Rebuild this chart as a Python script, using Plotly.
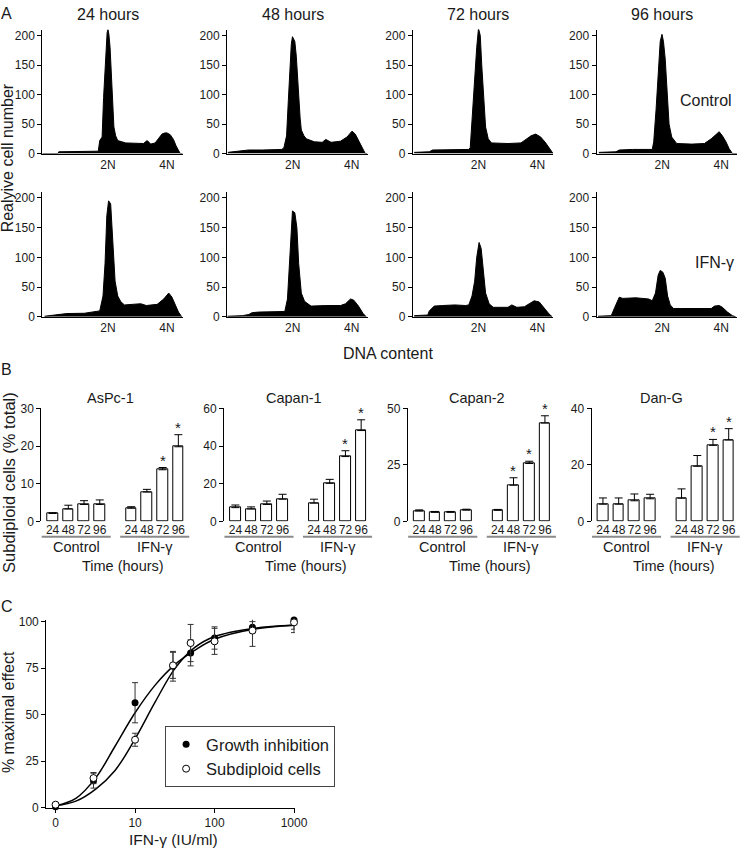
import plotly.graph_objects as go

# ---------------- DATA ----------------
# Panel A: DNA histograms (channel where 2N=200, 4N=400 ; relative cell number)
HOURS_TITLES = ["24 hours", "48 hours", "72 hours", "96 hours"]
DNA_TICKS = [200, 400]
DNA_TICK_TEXT = ["2N", "4N"]

c24_x = [-23, 30, 33, 100, 167, 172, 180, 185, 189, 193, 197, 200, 203, 207, 211, 215, 220, 226, 233, 260, 290, 320, 333, 345, 360, 372, 383, 393, 400, 411, 422, 431, 439, 445, 453]
c24_y = [0, 0, 3, 3, 4, 22, 28, 95, 140, 178, 205, 210, 202, 180, 130, 80, 45, 30, 22, 18, 17, 17, 22, 16, 18, 26, 33, 35, 35, 32, 24, 13, 4, 0, 0]
c48_x = [-20, 17, 50, 97, 130, 163, 170, 179, 185, 190, 195, 199, 203, 207, 212, 216, 220, 225, 229, 238, 246, 273, 300, 312, 330, 362, 384, 395, 401, 412, 423, 434, 446, 453]
c48_y = [2, 4, 6, 6, 7, 7, 10, 30, 90, 145, 185, 198, 195, 190, 165, 130, 100, 60, 40, 30, 25, 20, 19, 24, 19, 21, 28, 35, 38, 33, 22, 10, 0, 0]
c72_x = [-18, 33, 44, 100, 167, 172, 180, 187, 194, 200, 206, 211, 217, 224, 233, 244, 300, 344, 361, 378, 394, 411, 428, 444, 453]
c72_y = [2, 3, 6, 6, 7, 10, 75, 125, 180, 212, 200, 150, 90, 45, 25, 18, 17, 18, 24, 30, 33, 28, 18, 6, 0]
c96_x = [-15, 43, 54, 99, 166, 171, 179, 186, 193, 199, 204, 210, 216, 223, 232, 249, 300, 343, 366, 382, 393, 404, 416, 427, 438, 453]
c96_y = [2, 3, 6, 7, 7, 20, 75, 145, 190, 202, 190, 160, 105, 50, 28, 17, 16, 17, 25, 33, 37, 30, 20, 8, 0, 0]

i24_x = [-15, 33, 60, 120, 172, 183, 190, 196, 202, 209, 217, 224, 233, 244, 256, 311, 330, 367, 389, 406, 417, 428, 439, 450]
i24_y = [1, 4, 5.5, 6, 10, 35, 90, 170, 195, 190, 130, 60, 35, 25, 20, 22, 19, 21, 30, 40, 33, 20, 8, 0]
i48_x = [-21, 30, 51, 62, 84, 130, 173, 182, 190, 195, 199, 207, 214, 220, 229, 240, 262, 312, 362, 379, 396, 407, 423, 438, 449]
i48_y = [1, 2, 4, 7, 8, 8, 9, 30, 110, 160, 178, 175, 150, 90, 40, 26, 18, 19, 19, 22, 30, 28, 18, 6, 0]
i72_x = [-18, 28, 33, 50, 78, 120, 156, 167, 178, 187, 194, 202, 209, 217, 224, 236, 250, 300, 313, 330, 356, 372, 389, 406, 422, 439, 450]
i72_y = [2, 3, 10, 18, 19, 20, 19, 20, 35, 60, 100, 125, 115, 70, 40, 22, 16, 16, 20, 16, 17, 22, 27, 25, 15, 5, 0]
i96_x = [-18, 27, 38, 54, 66, 110, 154, 166, 177, 186, 193, 202, 210, 218, 227, 238, 266, 366, 377, 393, 404, 421, 438, 449]
i96_y = [1, 2, 15, 33, 31, 32, 30, 27, 40, 70, 78, 75, 65, 35, 20, 14, 14, 14, 18, 19, 16, 8, 2, 0]

HISTS = [(c24_x, c24_y), (c48_x, c48_y), (c72_x, c72_y), (c96_x, c96_y),
         (i24_x, i24_y), (i48_x, i48_y), (i72_x, i72_y), (i96_x, i96_y)]

# Panel B: subdiploid cells (% total)
TIME_POS = [0, 1, 2, 3, 5, 6, 7, 8]
TIME_LABELS = ["24", "48", "72", "96", "24", "48", "72", "96"]
CELL_LINES = ["AsPc-1", "Capan-1", "Capan-2", "Dan-G"]
aspc1_val = [2.1, 3.3, 4.5, 4.5, 3.5, 7.8, 13.7, 19.8]
aspc1_err = [0.2, 1.0, 1.0, 1.2, 0.4, 0.7, 0.6, 3.2]
capan1_val = [7.3, 6.6, 9.0, 11.8, 9.7, 20.2, 34.4, 48.2]
capan1_err = [1.4, 1.1, 1.8, 2.6, 2.1, 2.1, 3.1, 5.7]
capan2_val = [4.6, 4.0, 4.0, 5.0, 4.9, 16.0, 25.6, 43.5]
capan2_err = [0.5, 0.4, 0.4, 0.4, 0.4, 3.3, 1.0, 3.2]
dang_val = [6.1, 6.1, 7.3, 8.0, 8.2, 19.5, 26.9, 28.8]
dang_err = [2.2, 2.2, 2.4, 1.6, 3.3, 3.8, 2.1, 4.0]
BAR_VALS = [aspc1_val, capan1_val, capan2_val, dang_val]
BAR_ERRS = [aspc1_err, capan1_err, capan2_err, dang_err]
BAR_STARS = [[6, 7], [6, 7], [5, 6, 7], [6, 7]]
BAR_YMAX = [30, 60, 50, 40]
BAR_TICKS = [[0, 10, 20, 30], [0, 20, 40, 60], [0, 25, 50], [0, 20, 40]]

# Panel C: dose response (0 IU/ml shown at the position of 1)
DOSE = [1, 3, 10, 30, 50, 100, 300, 1000]
DOSE_TICKS = [1, 10, 100, 1000]
DOSE_TICK_TEXT = ["0", "10", "100", "1000"]
growth_val = [0.5, 14.5, 56.4, 76, 83.2, 91.2, 97, 100.9]
growth_err = [0.5, 4, 10.8, 8, 7, 6, 3, 5]
subdip_val = [1.6, 15.9, 36.5, 76.5, 88.5, 89.4, 95.2, 99.6]
subdip_err = [0.5, 3, 3.5, 7, 10, 7, 8.5, 5.5]
CURVE_DOSE = [1, 1.8, 3.2, 5.6, 10, 18, 32, 56, 100, 320, 1000]
growth_curve = [1, 5, 16, 33, 51, 66, 77, 84.5, 90.5, 96, 98]
subdip_curve = [1, 3.5, 10, 20, 37, 57, 75, 86, 92, 96.5, 98]

# ---------------- LAYOUT HELPERS ----------------
W, H = 754, 853
FONT = "Liberation Sans, Arial, Helvetica, sans-serif"
INK = "#1a1a1a"


def fx(p):
    return p / W


def fy(p):
    return 1 - p / H


def xdom(a, b):
    return [fx(a), fx(b)]


def ydom(top, bottom):
    return [fy(bottom), fy(top)]


def aname(k, ax):
    return ax if k == 1 else f"{ax}{k}"


def lname(k, ax):
    return f"{ax}axis" if k == 1 else f"{ax}axis{k}"


fig = go.Figure()
layout_axes = {}
annotations = []
shapes = []

axis_common = dict(showline=True, linecolor="black", linewidth=1, showgrid=False,
                   zeroline=False, tickfont=dict(size=12, family=FONT, color=INK))

# ---------------- PANEL A ----------------
HIST_LEFTS = [43, 231, 420, 607]
HIST_W = 143
ROWS = [(23, 149), (188, 315)]
for i, (hx, hy) in enumerate(HISTS):
    k = i + 1
    row = i // 4
    col = i % 4
    left = HIST_LEFTS[col]
    fig.add_trace(go.Scatter(x=hx, y=hy, mode="lines", fill="tozeroy",
                             line=dict(color="black", width=1), fillcolor="black",
                             xaxis=aname(k, "x"), yaxis=aname(k, "y"), showlegend=False,
                             hoverinfo="skip"))
    layout_axes[lname(k, "x")] = dict(axis_common, domain=xdom(left, left + HIST_W),
                                      anchor=aname(k, "y"), range=[-23, 453.7],
                                      tickvals=DNA_TICKS, ticktext=DNA_TICK_TEXT, ticks="")
    layout_axes[lname(k, "y")] = dict(axis_common, domain=ydom(*ROWS[row]),
                                      anchor=aname(k, "x"), range=[0, 210],
                                      tickvals=[0, 50, 100, 150, 200], ticks="outside",
                                      ticklen=4, tickcolor="black")
    if row == 0:
        annotations.append(dict(text=HOURS_TITLES[col], x=200, xref=aname(k, "x"),
                                y=fy(8), yref="paper", showarrow=False,
                                font=dict(size=16), xanchor="center", yanchor="middle"))

annotations += [
    dict(text="A", x=fx(7), y=fy(7)),
    dict(text="Control", x=fx(718), y=fy(95)),
    dict(text="IFN-γ", x=fx(727), y=fy(260)),
    dict(text="Realyive cell number", x=fx(8), y=fy(153), textangle=-90),
    dict(text="DNA content", x=fx(395), y=fy(352)),
]

# ---------------- PANEL B ----------------
BAR_LEFTS = [42, 228, 415, 602]
BAR_W = 151
BAR_ROW = (408, 523)
for j in range(4):
    k = 9 + j
    left = BAR_LEFTS[j]
    xa, ya = aname(k, "x"), aname(k, "y")
    fig.add_trace(go.Bar(x=TIME_POS, y=BAR_VALS[j], width=0.68,
                         marker=dict(color="white", line=dict(color="black", width=1)),
                         error_y=dict(type="data", array=BAR_ERRS[j],
                                      arrayminus=[0] * len(BAR_ERRS[j]), symmetric=False,
                                      color="black", thickness=1, width=4),
                         xaxis=xa, yaxis=ya, showlegend=False, hoverinfo="skip"))
    layout_axes[lname(k, "x")] = dict(axis_common, showline=False, domain=xdom(left, left + BAR_W),
                                      anchor=ya, range=[-0.72, 8.72], tickvals=TIME_POS,
                                      ticktext=TIME_LABELS, ticks="")
    layout_axes[lname(k, "y")] = dict(axis_common, domain=ydom(*BAR_ROW), anchor=xa,
                                      range=[0, BAR_YMAX[j]], tickvals=BAR_TICKS[j],
                                      ticks="outside", ticklen=4, tickcolor="black")
    for s in BAR_STARS[j]:
        annotations.append(dict(text="*", x=TIME_POS[s], xref=xa,
                                y=BAR_VALS[j][s] + BAR_ERRS[j][s], yref=ya,
                                showarrow=False, yanchor="bottom", yshift=-3,
                                font=dict(size=15)))
    annotations.append(dict(text=CELL_LINES[j], x=3.7, xref=xa, y=fy(398), yref="paper",
                            showarrow=False, font=dict(size=14.5)))
    annotations.append(dict(text="Control", x=1.5, xref=xa, y=fy(549), yref="paper",
                            showarrow=False, font=dict(size=14.5)))
    annotations.append(dict(text="IFN-γ", x=6.5, xref=xa, y=fy(549), yref="paper",
                            showarrow=False, font=dict(size=14.5)))
    annotations.append(dict(text="Time (hours)", x=4.5, xref=xa, y=fy(568), yref="paper",
                            showarrow=False, font=dict(size=14.5)))
    for (a, b) in [(-0.7, 3.7), (4.3, 8.7)]:
        shapes.append(dict(type="line", xref=xa, yref="paper", x0=a, x1=b,
                           y0=fy(538.5), y1=fy(538.5), line=dict(color="#8a8a8a", width=2)))

annotations += [
    dict(text="B", x=fx(7), y=fy(369)),
    dict(text="Subdiploid cells (% total)", x=fx(9), y=fy(483), textangle=-90,
         font=dict(size=16.5)),
]

# ---------------- PANEL C ----------------
k = 13
xa, ya = aname(k, "x"), aname(k, "y")
fig.add_trace(go.Scatter(x=CURVE_DOSE, y=growth_curve, mode="lines", line_shape="spline",
                         line=dict(color="black", width=1.5), xaxis=xa, yaxis=ya,
                         showlegend=False, hoverinfo="skip"))
fig.add_trace(go.Scatter(x=CURVE_DOSE, y=subdip_curve, mode="lines", line_shape="spline",
                         line=dict(color="black", width=1.5), xaxis=xa, yaxis=ya,
                         showlegend=False, hoverinfo="skip"))
fig.add_trace(go.Scatter(x=DOSE, y=growth_val, mode="markers", name="Growth inhibition",
                         marker=dict(symbol="circle", size=7, color="black"),
                         error_y=dict(type="data", array=growth_err, color="#333",
                                      thickness=1, width=3),
                         xaxis=xa, yaxis=ya, cliponaxis=False))
fig.add_trace(go.Scatter(x=DOSE, y=subdip_val, mode="markers", name="Subdiploid cells",
                         marker=dict(symbol="circle", size=7, color="white",
                                     line=dict(color="black", width=1)),
                         error_y=dict(type="data", array=subdip_err, color="#333",
                                      thickness=1, width=3),
                         xaxis=xa, yaxis=ya, cliponaxis=False))
layout_axes[lname(k, "x")] = dict(axis_common, type="log", domain=xdom(47, 300), anchor=ya,
                                  range=[-0.118, 3.01], tickvals=DOSE_TICKS,
                                  ticktext=DOSE_TICK_TEXT, ticks="outside", ticklen=4,
                                  tickcolor="black")
layout_axes[lname(k, "y")] = dict(axis_common, domain=ydom(623, 814), anchor=xa,
                                  range=[0, 101], tickvals=[0, 25, 50, 75, 100],
                                  ticks="outside", ticklen=4, tickcolor="black")
annotations += [
    dict(text="C", x=fx(7), y=fy(610)),
    dict(text="% maximal effect", x=fx(8), y=fy(717), textangle=-90),
    dict(text="IFN-γ (IU/ml)", x=fx(177), y=fy(846), font=dict(size=15.5)),
]

# defaults for paper annotations
final_ann = []
for a in annotations:
    a = dict(a)
    a.setdefault("xref", "paper")
    a.setdefault("yref", "paper")
    a.setdefault("showarrow", False)
    a.setdefault("xanchor", "center")
    a.setdefault("yanchor", "middle")
    f = dict(family=FONT, color=INK, size=16)
    f.update(a.get("font", {}))
    a["font"] = f
    final_ann.append(a)

fig.update_layout(
    width=W, height=H, margin=dict(l=0, r=0, t=0, b=0),
    paper_bgcolor="white", plot_bgcolor="white",
    font=dict(family=FONT, color=INK, size=12),
    annotations=final_ann, shapes=shapes, bargap=0,
    legend=dict(x=fx(168), y=fy(731), xanchor="left", yanchor="top",
                bgcolor="white", bordercolor="#444", borderwidth=1,
                font=dict(family=FONT, size=16.5, color=INK), itemwidth=30,
                tracegroupgap=0),
    **layout_axes,
)

fig.write_html(
    "out.html",
    config={"displayModeBar": False},
    post_script="document.body.style.margin='0';document.body.style.overflow='hidden';",
)
